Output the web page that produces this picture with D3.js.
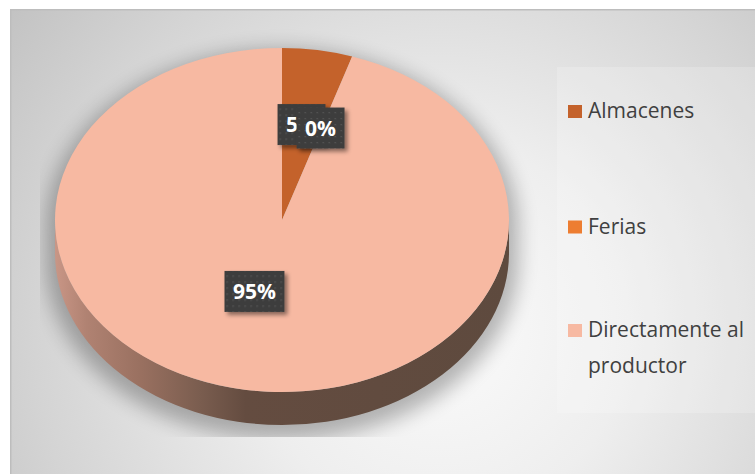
<!DOCTYPE html>
<html>
<head>
<meta charset="utf-8">
<script src="https://cdn.jsdelivr.net/npm/d3@7"></script>
<style>
  html, body { margin: 0; padding: 0; background: #ffffff; }
  svg { display: block; }
</style>
</head>
<body>
<script>
// Where the product is bought (share of answers, %)
const categories  = ["Almacenes", "Ferias", "Directamente al productor"];
const shares      = [5, 0, 95];
const shareLabels = ["5%", "0%", "95%"];
const legendLines = [["Almacenes"], ["Ferias"], ["Directamente al", "productor"]];
const sliceColors = ["#c4622b", "#ed7d31", "#f7b9a2"];

const W = 755, H = 474;
const svg = d3.select("body").append("svg").attr("width", W).attr("height", H);
const defs = svg.append("defs");

// ---- paint definitions ----
const bgGrad = defs.append("radialGradient").attr("id", "bgGrad")
  .attr("gradientUnits", "userSpaceOnUse")
  .attr("cx", 440).attr("cy", 330).attr("r", 540);
[[0, "#fbfbfb"], [0.35, "#eeeeee"], [0.75, "#d4d4d4"], [1, "#c2c2c2"]]
  .forEach(([o, c]) => bgGrad.append("stop").attr("offset", o).attr("stop-color", c));

// pie geometry (tilted disc)
const cx = 282, cy = 220, rx = 227, ry = 172, depth = 33;
const R = 100;

const sideGrad = defs.append("linearGradient").attr("id", "sideGrad")
  .attr("gradientUnits", "userSpaceOnUse")
  .attr("x1", cx - rx).attr("x2", cx + rx).attr("y1", 0).attr("y2", 0);
[[0, "#c99686"], [0.07, "#b08272"], [0.19, "#997060"], [0.32, "#7a5d4f"], [0.42, "#644c40"], [1, "#5e4a3e"]]
  .forEach(([o, c]) => sideGrad.append("stop").attr("offset", o).attr("stop-color", c));

const blur = defs.append("filter").attr("id", "pieShadow")
  .attr("x", "-30%").attr("y", "-30%").attr("width", "160%").attr("height", "160%");
blur.append("feGaussianBlur").attr("stdDeviation", 10);

defs.append("clipPath").attr("id", "plotClip")
  .append("rect").attr("x", 40).attr("y", 12).attr("width", 520).attr("height", 425);

const dots = defs.append("pattern").attr("id", "dotTex")
  .attr("patternUnits", "userSpaceOnUse").attr("width", 6).attr("height", 6);
dots.append("rect").attr("width", 6).attr("height", 6).attr("fill", "#3e3e3e");
dots.append("rect").attr("x", 2).attr("y", 2).attr("width", 1.2).attr("height", 1.2).attr("fill", "#5c5c5c");

const boxShadow = defs.append("filter").attr("id", "boxShadow")
  .attr("x", "-30%").attr("y", "-30%").attr("width", "170%").attr("height", "170%");
boxShadow.append("feDropShadow").attr("dx", 3).attr("dy", 3)
  .attr("stdDeviation", 2).attr("flood-color", "#000").attr("flood-opacity", 0.45);

// ---- chart area ----
svg.append("rect").attr("x", 10).attr("y", 9).attr("width", W - 10).attr("height", H - 9)
  .attr("fill", "url(#bgGrad)");
svg.append("path").attr("d", `M10.75,${H} V9.75 H${W}`)
  .attr("fill", "none").attr("stroke", "#bdbdbd").attr("stroke-width", 1.5);

// legend panel
svg.append("rect").attr("x", 557).attr("y", 67).attr("width", W - 557).attr("height", 346)
  .attr("fill", "#ffffff").attr("opacity", 0.2);

// ---- soft shadow under the disc ----
const silhouette = (dx, dy, s) => {
  const a = rx * s, b = ry * s, x0 = cx + dx, y0 = cy + dy;
  return `M${x0 - a},${y0} A${a},${b} 0 0 1 ${x0 + a},${y0} L${x0 + a},${y0 + depth} ` +
         `A${a},${b} 0 0 1 ${x0 - a},${y0 + depth} Z`;
};
svg.append("g").attr("clip-path", "url(#plotClip)")
  .append("path").attr("d", silhouette(0, 8, 1.04))
  .attr("fill", "#000").attr("opacity", 0.28).attr("filter", "url(#pieShadow)");

// ---- side wall of the disc ----
svg.append("path")
  .attr("d", `M${cx - rx},${cy} A${rx},${ry} 0 0 0 ${cx + rx},${cy} L${cx + rx},${cy + depth} ` +
             `A${rx},${ry} 0 0 1 ${cx - rx},${cy + depth} Z`)
  .attr("fill", "url(#sideGrad)");

// ---- top face ----
const pie = d3.pie().sort(null).value(d => d);
const arcs = pie(shares);
const arc = d3.arc().innerRadius(0).outerRadius(R);
const color = d3.scaleOrdinal().domain(categories).range(sliceColors);

svg.append("g")
  .attr("transform", `translate(${cx},${cy}) scale(${rx / R},${ry / R})`)
  .selectAll("path").data(arcs).join("path")
  .attr("d", arc)
  .attr("fill", (d, i) => color(categories[i]));

// ---- value labels ----
const labelArc = d3.arc().innerRadius(R * 0.55).outerRadius(R * 0.55);
const labelG = svg.append("g");
arcs.forEach((d, i) => {
  const c = labelArc.centroid(d);
  const big = (d.endAngle - d.startAngle) > Math.PI;
  let x = cx + c[0] * rx / R, y = cy + c[1] * ry / R - 2;
  if (big) { x -= 8; y -= 20; }
  const g = labelG.append("g").attr("transform", `translate(${x},${y})`);
  const box = g.append("rect").attr("fill", "url(#dotTex)").attr("filter", "url(#boxShadow)");
  const t = g.append("text").text(shareLabels[i])
    .attr("text-anchor", "middle").attr("dy", "0.36em")
    .attr("fill", "#ffffff")
    .style("font-family", "'Open Sans', sans-serif").style("font-weight", 700).style("font-size", "21px");
  const tw = t.node().getComputedTextLength();
  const bw = tw + 17, bh = 41;
  box.attr("x", -bw / 2).attr("y", -bh / 2).attr("width", bw).attr("height", bh);
});

// ---- legend ----
const ly = d3.scalePoint().domain(categories).range([111, 342]);
const legend = svg.append("g").selectAll("g").data(categories).join("g")
  .attr("transform", d => `translate(568,${ly(d)})`);
legend.each(function (d, i) {
  const g = d3.select(this);
  const lines = legendLines[i];
  const base = lines.length > 1 ? -5 : 7;
  g.append("rect").attr("x", 0).attr("y", base - 13).attr("width", 14).attr("height", 13)
    .attr("fill", color(d));
  const t = g.append("text").attr("x", 20).attr("y", base)
    .attr("fill", "#404040")
    .style("font-family", "'Open Sans', sans-serif").style("font-size", "21px");
  lines.forEach((ln, k) => t.append("tspan").attr("x", 20).attr("y", base + k * 36).text(ln));
});
</script>
</body>
</html>
